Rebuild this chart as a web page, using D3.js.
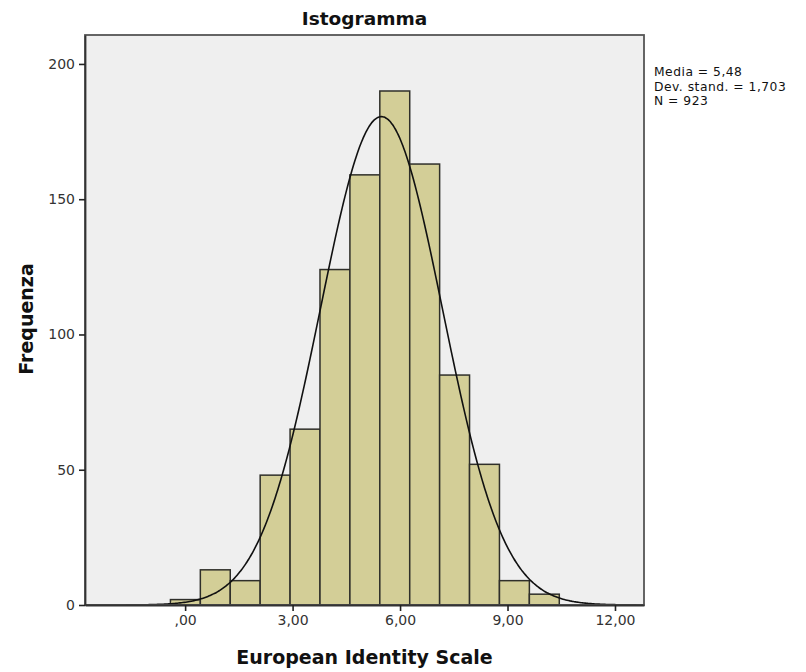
<!DOCTYPE html>
<html><head><meta charset="utf-8">
<script src="https://cdn.jsdelivr.net/npm/d3@7"></script>
<style>body{margin:0;background:#fff}svg{display:block}</style></head><body>
<script>
// ---- data ----
const binStart = -0.41;          // lower edge of first bin
const binWidth = 0.835;          // width of each bin
const counts = [2, 13, 9, 48, 65, 124, 159, 190, 163, 85, 52, 9, 4];
const xTickValues = [0, 3, 6, 9, 12];
const xTickLabels = [",00", "3,00", "6,00", "9,00", "12,00"];
const yTickValues = [0, 50, 100, 150, 200];
const statMean = 5.48;
const statSd = 1.703;
const statN = 923;
const legendLines = ["Media = 5,48", "Dev. stand. = 1,703", "N = 923"];
const titleText = "Istogramma";
const xTitle = "European Identity Scale";
const yTitle = "Frequenza";

// ---- layout ----
const W = 806, H = 672;
const L = 85, R = 644, T = 35, B = 605;
const font = "'DejaVu Sans', sans-serif";

const svg = d3.select("body").append("svg").attr("width", W).attr("height", H);

const x = d3.scaleLinear().domain([-2.795, 12.81]).range([L, R]);
const y = d3.scaleLinear().domain([0, 210.7]).range([B, T]);

// plot background
svg.append("rect").attr("x", L).attr("y", T).attr("width", R - L).attr("height", B - T)
  .attr("fill", "#efefef");

// bars
const bins = counts.map((c, i) => ({x0: binStart + i * binWidth, x1: binStart + (i + 1) * binWidth, c}));
svg.append("g").selectAll("rect").data(bins).join("rect")
  .attr("x", d => x(d.x0)).attr("width", d => x(d.x1) - x(d.x0))
  .attr("y", d => y(d.c)).attr("height", d => y(0) - y(d.c))
  .attr("fill", "#d3ce97").attr("stroke", "#2f2f2a").attr("stroke-width", 1.5);

// normal curve (fitted from mean, sd, N)
const scaleF = statN * binWidth / (statSd * Math.sqrt(2 * Math.PI));
const dom = x.domain();
const pts = d3.range(0, 401).map(i => dom[0] + (dom[1] - dom[0]) * i / 400)
  .map(v => [v, scaleF * Math.exp(-0.5 * ((v - statMean) / statSd) ** 2)]);
svg.append("path").datum(pts)
  .attr("d", d3.line().x(d => x(d[0])).y(d => y(d[1])).curve(d3.curveBasis))
  .attr("fill", "none").attr("stroke", "#111").attr("stroke-width", 1.6);

// frame
svg.append("rect").attr("x", L).attr("y", T).attr("width", R - L).attr("height", B - T)
  .attr("fill", "none").attr("stroke", "#555").attr("stroke-width", 1.8);

// axes
const xAxis = d3.axisBottom(x).tickValues(xTickValues).tickSize(6).tickSizeOuter(0).tickPadding(4)
  .tickFormat((d, i) => xTickLabels[i]);
const gx = svg.append("g").attr("transform", `translate(0,${B})`).call(xAxis);
const yAxis = d3.axisLeft(y).tickValues(yTickValues).tickSize(6).tickSizeOuter(0).tickPadding(4);
const gy = svg.append("g").attr("transform", `translate(${L},0)`).call(yAxis);
[gx, gy].forEach(g => {
  g.select(".domain").attr("stroke", "#333").attr("stroke-width", 1.8);
  g.selectAll(".tick line").attr("stroke", "#222").attr("stroke-width", 1.6);
  g.selectAll(".tick text").attr("font-family", font).attr("font-size", 14).attr("fill", "#333");
});

// title
svg.append("text").attr("x", (L + R) / 2).attr("y", 25).attr("text-anchor", "middle")
  .attr("font-family", font).attr("font-weight", "bold").attr("font-size", 18.5).attr("fill", "#111")
  .text(titleText);
svg.append("text").attr("x", (L + R) / 2).attr("y", 664).attr("text-anchor", "middle")
  .attr("font-family", font).attr("font-weight", "bold").attr("font-size", 19).attr("fill", "#111")
  .text(xTitle);
svg.append("text").attr("transform", `translate(33,319) rotate(-90)`).attr("text-anchor", "middle")
  .attr("font-family", font).attr("font-weight", "bold").attr("font-size", 19).attr("fill", "#111")
  .text(yTitle);

// stats legend
svg.append("g").selectAll("text").data(legendLines).join("text")
  .attr("x", 654).attr("y", (d, i) => 76 + i * 14.5)
  .attr("font-family", font).attr("font-size", 12.3).attr("letter-spacing", 0.5).attr("fill", "#111")
  .text(d => d);
</script>
</body></html>
